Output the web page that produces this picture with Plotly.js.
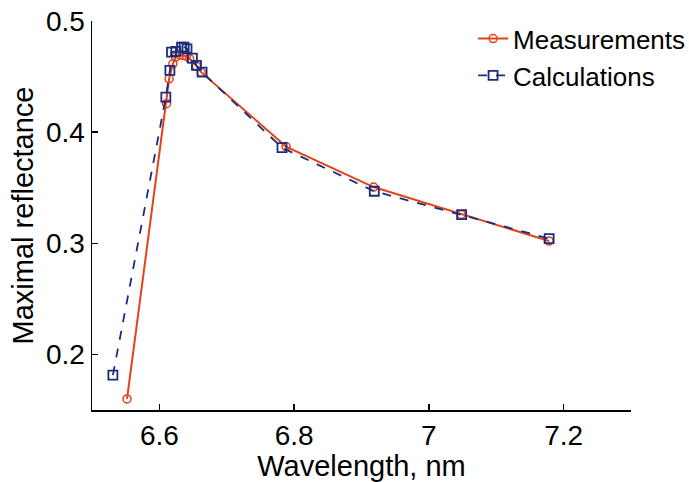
<!DOCTYPE html>
<html>
<head>
<meta charset="utf-8">
<script src="https://cdn.plot.ly/plotly-3.0.1.min.js"></script>
<style>html,body{margin:0;padding:0;background:#fff;}#chart{width:689px;height:482px;}</style>
</head>
<body>
<div id="chart"></div>
<script>
const measWavelength = [6.552, 6.6106, 6.6145, 6.620, 6.624, 6.630, 6.635, 6.640, 6.645, 6.655, 6.662, 6.788, 6.918, 7.048, 7.1785];
const measReflectance = [0.160, 0.4256, 0.448, 0.4615, 0.4675, 0.4695, 0.469, 0.4683, 0.466, 0.4596, 0.454, 0.387, 0.3506, 0.326, 0.302];
const calcWavelength = [6.531, 6.6096, 6.6156, 6.618, 6.6244, 6.6329, 6.6367, 6.641, 6.649, 6.655, 6.6634, 6.782, 6.919, 7.0486, 7.1785];
const calcReflectance = [0.1814, 0.4315, 0.4555, 0.472, 0.4726, 0.4764, 0.4764, 0.475, 0.4666, 0.460, 0.454, 0.386, 0.3468, 0.3258, 0.3042];
const xTicks = [6.6, 6.8, 7, 7.2];
const xTickLabels = ["6.6", "6.8", "7", "7.2"];
const yTicks = [0.2, 0.3, 0.4, 0.5];
const yTickLabels = ["0.2", "0.3", "0.4", "0.5"];

const red = "#e4421b";
const blue = "#1a2d7c";
const font = "Liberation Sans, Arial, Helvetica, sans-serif";

const traces = [
  {
    x: measWavelength, y: measReflectance, name: "Measurements",
    type: "scatter", mode: "lines+markers",
    line: {color: red, width: 2},
    marker: {symbol: "circle-open", size: 8, color: red, line: {width: 1.5, color: red}}
  },
  {
    x: calcWavelength, y: calcReflectance, name: "Calculations",
    type: "scatter", mode: "lines+markers",
    line: {color: blue, width: 1.8, dash: "dash"},
    marker: {symbol: "square-open", size: 9, color: blue, line: {width: 1.8, color: blue}}
  }
];

const layout = {
  width: 689, height: 482,
  margin: {l: 92, r: 58, t: 21, b: 72, pad: 0, autoexpand: false},
  paper_bgcolor: "#fff", plot_bgcolor: "#fff",
  font: {family: font, color: "#000", size: 26},
  showlegend: true,
  legend: {x: 0.707, xanchor: "left", y: 1.015, yanchor: "top", bgcolor: "rgba(0,0,0,0)",
           font: {size: 26, family: font}, tracegroupgap: 0, itemwidth: 30, borderwidth: 0},
  xaxis: {
    range: [6.5, 7.3], tickvals: xTicks, ticktext: xTickLabels,
    showgrid: false, zeroline: false, showline: true, linecolor: "#000", linewidth: 1.5,
    ticks: "inside", ticklen: 6, tickwidth: 1.5, tickcolor: "#000",
    tickfont: {size: 28, family: font}, automargin: false,
    title: {text: "Wavelength, nm", font: {size: 29, family: font}, standoff: 4}
  },
  yaxis: {
    range: [0.15, 0.5], tickvals: yTicks, ticktext: yTickLabels,
    showgrid: false, zeroline: false, showline: true, linecolor: "#000", linewidth: 1.5,
    ticks: "inside", ticklen: 6, tickwidth: 1.5, tickcolor: "#000",
    tickfont: {size: 28, family: font}, automargin: false,
    title: {text: "Maximal reflectance", font: {size: 29, family: font}, standoff: 4}
  }
};

Plotly.newPlot("chart", traces, layout, {displayModeBar: false, staticPlot: true});
</script>
</body>
</html>
